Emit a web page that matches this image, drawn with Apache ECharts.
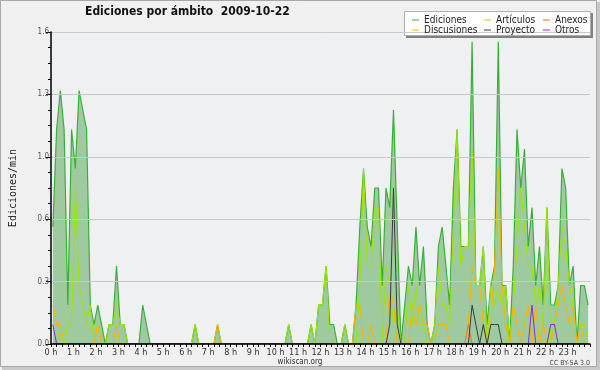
<!DOCTYPE html>
<html>
<head>
<meta charset="utf-8">
<script src="https://cdn.jsdelivr.net/npm/echarts@6/dist/echarts.min.js"></script>
<style>html,body{margin:0;padding:0;background:#fff}#c{width:600px;height:370px}</style>
</head>
<body>
<div id="c"></div>
<script>
// 10-minute slots of the day, in hours (slot centres)
const slotHours = [];
for (let i = 0; i < 144; i++) slotHours.push((i + 0.5) / 6);
const hourTicks = [];
for (let h = 0; h < 24; h++) hourTicks.push(h + ' h');

const ediciones = [
  0.6,1.1,1.3,1.1,0.2,1.1,0.9,1.3,1.2,1.1,0.2,0.1,
  0.2,0.1,0,0.1,0.1,0.4,0.1,0.1,0,0,0,0,
  0.2,0.1,0,0,0,0,0,0,0,0,0,0,
  0,0,0.1,0,0,0,0,0,0.1,0,0,0,
  0,0,0,0,0,0,0,0,0,0,0,0,
  0,0,0,0.1,0,0,0,0,0,0.1,0,0.2,
  0.2,0.4,0.1,0.1,0,0,0.1,0,0,0.2,0.6,0.9,
  0.6,0.5,0.8,0.8,0.3,0.8,0.7,1.2,0.6,0,0.2,0.4,
  0.3,0.6,0.3,0.5,0.1,0,0.1,0.5,0.6,0.4,0.2,0.8,
  1.1,0.5,0.5,0.5,1.55,0.3,0.3,0.5,0.1,0.3,0.4,1.55,
  0.3,0.3,0,0.4,1.1,0.8,1.0,0.5,0.7,0.3,0.5,0.2,
  0.7,0.2,0.2,0.3,0.9,0.8,0.3,0.4,0,0.3,0.3,0.2
];
const articulos = [
  0,0,0.1,0,0.1,0.1,0.8,0.3,0.2,0.1,0.2,0,
  0.1,0,0,0.1,0.1,0.2,0.1,0.1,0,0,0,0,
  0,0,0,0,0,0,0,0,0,0,0,0,
  0,0,0.1,0,0,0,0,0,0,0,0,0,
  0,0,0,0,0,0,0,0,0,0,0,0,
  0,0,0,0.1,0,0,0,0,0,0.1,0,0.2,
  0.2,0.4,0,0,0,0,0.1,0,0,0,0.3,0.9,
  0.4,0.4,0.7,0.7,0,0.4,0.3,0.1,0.2,0,0,0.3,
  0.1,0.3,0.1,0.1,0,0,0.1,0.4,0.2,0.2,0.1,0.6,
  1.1,0.4,0.5,0.5,1.0,0.3,0.3,0.5,0,0.3,0.2,0.3,
  0.2,0.3,0,0.2,0.5,0.8,0.6,0.4,0.4,0.2,0.3,0.1,
  0.7,0,0.1,0.3,0.6,0.5,0.3,0.2,0,0.1,0.1,0
];
const discusiones = [
  0.2,0.1,0.1,0,0,0,0,0,0,0,0,0,
  0.1,0,0,0,0,0.1,0,0,0,0,0,0,
  0,0,0,0,0,0,0,0,0,0,0,0,
  0,0,0,0,0,0,0,0,0.1,0,0,0,
  0,0,0,0,0,0,0,0,0,0,0,0,
  0,0,0,0,0,0,0,0,0,0,0,0,
  0,0,0,0,0,0,0,0,0,0.2,0.2,0,
  0,0.1,0,0,0,0,0.3,0.2,0,0,0,0,
  0.2,0.1,0.2,0.1,0.1,0,0,0.1,0.1,0.1,0,0,
  0,0,0,0.1,0.4,0.3,0.3,0.1,0,0.1,0.4,0.9,
  0.3,0.1,0,0.2,0.1,0,0.1,0.2,0,0.2,0,0.1,
  0,0,0.1,0.2,0.3,0.2,0.1,0.2,0,0.1,0,0
];
const proyecto = [
  0,0,0,0,0,0,0,0,0,0,0,0,
  0,0,0,0,0,0,0,0,0,0,0,0,
  0,0,0,0,0,0,0,0,0,0,0,0,
  0,0,0,0,0,0,0,0,0,0,0,0,
  0,0,0,0,0,0,0,0,0,0,0,0,
  0,0,0,0,0,0,0,0,0,0,0,0,
  0,0,0,0,0,0,0,0,0,0,0,0,
  0,0,0,0,0,0,0.1,0.8,0.1,0,0,0,
  0,0,0,0,0,0,0,0,0,0,0,0,
  0,0,0,0,0.2,0.1,0,0.1,0,0.1,0.1,0.1,
  0,0,0,0,0,0,0,0,0,0,0,0,
  0,0,0,0,0,0,0,0,0,0,0,0
];
const anexos = [
  0,0,0,0,0,0,0,0,0,0,0,0,
  0,0,0,0,0,0,0,0,0,0,0,0,
  0,0,0,0,0,0,0,0,0,0,0,0,
  0,0,0,0,0,0,0,0,0,0,0,0,
  0,0,0,0,0,0,0,0,0,0,0,0,
  0,0,0,0,0,0,0,0,0,0,0,0,
  0,0,0,0,0,0,0,0,0,0,0,0,
  0,0,0,0,0,0,0,0,0,0,0,0,
  0,0,0,0,0,0,0,0,0,0,0,0,
  0,0,0,0.1,0,0,0,0,0,0,0,0,
  0,0,0,0,0,0,0,0,0,0,0,0,
  0,0,0,0,0,0,0,0,0,0,0,0
];
const otros = [
  0.1,0,0,0,0,0,0,0,0,0,0,0,
  0,0,0,0,0,0,0,0,0,0,0,0,
  0,0,0,0,0,0,0,0,0,0,0,0,
  0,0,0,0,0,0,0,0,0,0,0,0,
  0,0,0,0,0,0,0,0,0,0,0,0,
  0,0,0,0,0,0,0,0,0,0,0,0,
  0,0,0,0,0,0,0,0,0,0,0,0,
  0,0,0,0,0,0,0,0,0,0,0,0,
  0,0,0,0,0,0,0,0,0,0,0,0,
  0,0,0,0,0,0,0,0,0,0,0,0,
  0,0,0,0,0,0,0,0,0.2,0,0,0,
  0,0.1,0.1,0,0,0,0,0,0,0,0,0
];

const FONT = '"DejaVu Sans Condensed","DejaVu Sans",sans-serif';
const pair = arr => slotHours.map((t, k) => [t, arr[k]]);

function lineSeries(name, color, arr, z, width) {
  return {
    name: name, type: 'line', data: pair(arr), color: color,
    showSymbol: false, symbol: 'none', z: z,
    lineStyle: { color: color, width: width || 1 },
    emphasis: { disabled: true }
  };
}

const legendBase = {
  orient: 'vertical', top: 15, itemGap: 0, itemWidth: 7, itemHeight: 1,
  icon: 'rect', padding: 0, z: 10, selectedMode: false,
  textStyle: { fontFamily: FONT, fontSize: 10, lineHeight: 9.3, color: '#222' }
};

const chart = echarts.init(document.getElementById('c'), null, { renderer: 'canvas' });
chart.setOption({
  animation: false,
  backgroundColor: '#f0f0f0',
  title: {
    text: 'Ediciones por ámbito  2009-10-22', left: 85, top: 6, padding: 0,
    textStyle: { fontFamily: FONT, fontWeight: 'bold', fontSize: 12, color: '#111' }
  },
  legend: [
    Object.assign({}, legendBase, { left: 412, data: ['Ediciones', 'Discusiones'] }),
    Object.assign({}, legendBase, { left: 484, data: ['Artículos', 'Proyecto'] }),
    Object.assign({}, legendBase, { left: 543, data: ['Anexos', 'Otros'] })
  ],
  grid: { left: 45, right: 10, top: 32, bottom: 26, show: true, backgroundColor: '#eff0f2', borderWidth: 0 },
  xAxis: {
    type: 'value', min: 0, max: 24, interval: 1, z: 10,
    axisLine: { show: true, lineStyle: { color: '#000', width: 1.5 } },
    axisTick: { show: true, length: 3, lineStyle: { color: '#000' } },
    minorTick: { show: true, splitNumber: 4, length: 3, lineStyle: { color: '#000' } },
    splitLine: { show: false },
    axisLabel: {
      formatter: v => (v < 24 ? hourTicks[v] : ''), fontFamily: FONT, fontSize: 9, color: '#333', margin: 4
    }
  },
  yAxis: {
    type: 'value', min: 0, max: 1.6, interval: 0.32, z: 10,
    name: 'Ediciones/min', nameLocation: 'middle', nameGap: 33,
    nameTextStyle: { fontFamily: '"DejaVu Sans Mono",monospace', fontSize: 10, color: '#222' },
    axisLine: { show: true, lineStyle: { color: '#000', width: 1.5 } },
    axisTick: { show: true, length: 5, lineStyle: { color: '#000' } },
    minorTick: { show: true, splitNumber: 4, length: 3, lineStyle: { color: '#000' } },
    splitLine: { show: true, lineStyle: { color: '#c8c8c8' } },
    axisLabel: { formatter: v => v.toFixed(1), fontFamily: FONT, fontSize: 8, color: '#555', margin: 2 }
  },
  series: [
    Object.assign(lineSeries('Ediciones', '#3aae3a', ediciones, 2, 1.2), {
      areaStyle: { color: '#9fca9f', opacity: 1 }
    }),
    lineSeries('Artículos', '#99e600', articulos, 3),
    lineSeries('Discusiones', '#f0b800', discusiones, 4),
    lineSeries('Anexos', '#ff6a2a', anexos, 5),
    lineSeries('Proyecto', '#3a3a3a', proyecto, 6),
    lineSeries('Otros', '#8a2be2', otros, 7)
  ],
  graphic: [
    { type: 'rect', z: 1, silent: true, shape: { x: 597, y: 2, width: 3, height: 368 }, style: { fill: '#c8c8c8' } },
    { type: 'rect', z: 1, silent: true, shape: { x: 2, y: 367, width: 598, height: 3 }, style: { fill: '#c8c8c8' } },
    { type: 'rect', z: 1, silent: true, shape: { x: 0.5, y: 0.5, width: 596, height: 366 }, style: { fill: 'none', stroke: '#a8a8a8', lineWidth: 1 } },
    { type: 'rect', z: 8, silent: true, shape: { x: 406, y: 13, width: 187, height: 25 }, style: { fill: '#808080' } },
    { type: 'rect', z: 9, silent: true, shape: { x: 404.5, y: 11.5, width: 186, height: 24 }, style: { fill: '#ffffff', stroke: '#b0b0b0', lineWidth: 1 } },
    { type: 'text', z: 9, silent: true, x: 300, y: 362, style: { text: 'wikiscan.org', fontFamily: FONT, fontSize: 8, fill: '#333', align: 'center', verticalAlign: 'middle' } },
    { type: 'text', z: 9, silent: true, x: 590, y: 363, style: { text: 'CC BY-SA 3.0', fontFamily: FONT, fontSize: 7, fill: '#444', align: 'right', verticalAlign: 'middle' } }
  ]
});
</script>
</body>
</html>
